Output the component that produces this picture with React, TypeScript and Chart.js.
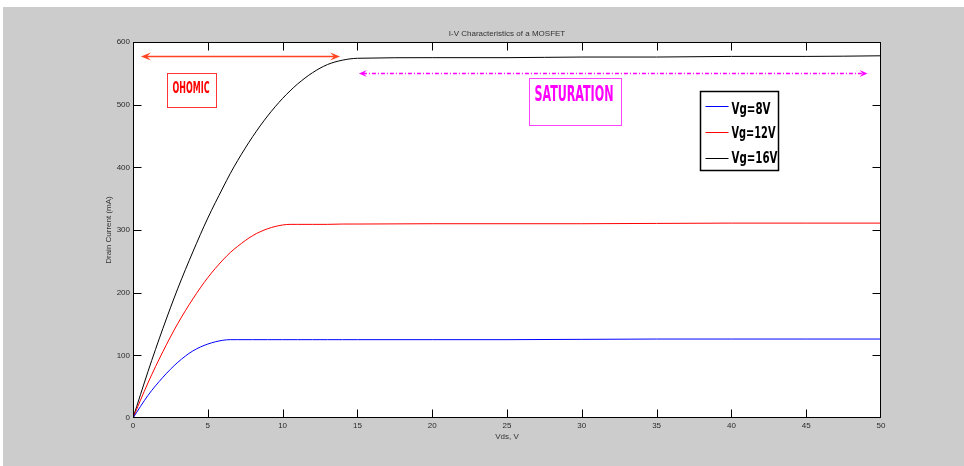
import React, { useEffect, useRef } from "react";
import { Chart, registerables } from "chart.js";

Chart.register(...registerables);

// ---- data ----
const vds = [0, 1, 2, 3, 4, 5, 6, 6.5, 7, 8, 9, 10, 10.5, 11, 12, 13, 14, 15, 20, 25, 30, 35, 40, 45, 50];
const idVg8 = [0, 36, 65, 89, 107, 118, 124, 125, 125, 125, 125, 125, 125, 125, 125, 125, 125, 125, 125, 125, 125.5, 126, 126, 126, 126];
const idVg12 = [0, 56, 106, 151, 190, 224, 252, 264, 274, 291, 302, 308, 309, 309, 309, 309, 309.5, 309.5, 310, 310, 310, 310.5, 311, 311, 311];
const idVg16 = [0, 74, 143, 207, 265, 319, 367, 390, 411, 449, 482, 510, 522, 533, 551, 564, 571, 574, 575, 575, 576, 576, 577, 577, 578];

const xTicks = [0, 5, 10, 15, 20, 25, 30, 35, 40, 45, 50];
const yTicks = [0, 100, 200, 300, 400, 500, 600];

const seriesLabels = ["Vg=8V", "Vg=12V", "Vg=16V"];
const seriesColors = ["#0000ff", "#ff0000", "#000000"];

const titleText = "I-V Characteristics of a MOSFET";
const xTitle = "Vds, V";
const yTitle = "Drain Current (mA)";
const ohmicText = "OHOMIC";
const satText = "SATURATION";

const smallFont = '"Liberation Sans", Arial, Helvetica, sans-serif';

function drawCondensed(
  ctx: CanvasRenderingContext2D,
  text: string,
  left: number,
  baseline: number,
  cap: number,
  width: number,
  color: string
) {
  const size = cap / 0.729;
  ctx.save();
  ctx.font = `bold ${size}px "DejaVu Sans Condensed", "DejaVu Sans", sans-serif`;
  const m = ctx.measureText(text).width;
  ctx.translate(left, baseline);
  ctx.scale(width / m, 1);
  ctx.fillStyle = color;
  ctx.textAlign = "left";
  ctx.textBaseline = "alphabetic";
  ctx.fillText(text, 0, 0);
  ctx.restore();
}

function arrowHead(ctx: CanvasRenderingContext2D, tipX: number, y: number, dir: number, len: number, half: number) {
  ctx.beginPath();
  ctx.moveTo(tipX, y);
  ctx.lineTo(tipX - dir * len, y - half);
  ctx.lineTo(tipX - dir * len * 0.6, y);
  ctx.lineTo(tipX - dir * len, y + half);
  ctx.closePath();
  ctx.fill();
}

const matlabPlugin = {
  id: "matlabLook",
  beforeDraw(chart: any) {
    const { ctx, chartArea: a, width, height } = chart;
    ctx.save();
    ctx.fillStyle = "#ffffff";
    ctx.fillRect(0, 0, width, height);
    ctx.fillStyle = "#cccccc";
    ctx.fillRect(3, 7, width - 3, height - 7);
    ctx.fillStyle = "#ffffff";
    ctx.fillRect(a.left, a.top, a.right - a.left, a.bottom - a.top);
    ctx.restore();
  },
  afterDatasetsDraw(chart: any) {
    const { ctx, chartArea: a } = chart;
    const sx = chart.scales.x;
    const sy = chart.scales.y;
    const L = Math.round(a.left) + 0.5;
    const R = Math.round(a.right) - 0.5;
    const T = Math.round(a.top) + 0.5;
    const B = Math.round(a.bottom) - 0.5;
    ctx.save();

    // frame and inward ticks
    ctx.strokeStyle = "#000000";
    ctx.lineWidth = 1;
    ctx.strokeRect(L, T, R - L, B - T);
    const tl = 8;
    ctx.beginPath();
    xTicks.forEach((v) => {
      const px = Math.max(L, Math.min(R, Math.round(sx.getPixelForValue(v)) + 0.5));
      ctx.moveTo(px, B);
      ctx.lineTo(px, B - tl);
      ctx.moveTo(px, T);
      ctx.lineTo(px, T + tl);
    });
    yTicks.forEach((v) => {
      const py = Math.max(T, Math.min(B, Math.round(sy.getPixelForValue(v)) + 0.5));
      ctx.moveTo(L, py);
      ctx.lineTo(L + tl, py);
      ctx.moveTo(R, py);
      ctx.lineTo(R - tl, py);
    });
    ctx.stroke();

    // titles
    ctx.fillStyle = "#333333";
    ctx.font = `8px ${smallFont}`;
    ctx.textAlign = "center";
    ctx.textBaseline = "middle";
    ctx.fillText(titleText, (a.left + a.right) / 2, a.top - 8.5);
    ctx.fillText(xTitle, (a.left + a.right) / 2, a.bottom + 18.5);
    ctx.save();
    ctx.translate(a.left - 24, (a.top + a.bottom) / 2);
    ctx.rotate(-Math.PI / 2);
    ctx.fillText(yTitle, 0, 0);
    ctx.restore();

    const X = (v: number) => sx.getPixelForValue(v);
    const Y = (v: number) => sy.getPixelForValue(v);

    // ohmic double arrow
    {
      const y = Math.round(Y(577)) + 0.5;
      const x1 = X(0.53);
      const x2 = X(13.84);
      ctx.strokeStyle = "#ff4422";
      ctx.fillStyle = "#ff4422";
      ctx.lineWidth = 1.6;
      ctx.beginPath();
      ctx.moveTo(x1 + 4, y);
      ctx.lineTo(x2 - 4, y);
      ctx.stroke();
      arrowHead(ctx, x1, y, -1, 10, 4);
      arrowHead(ctx, x2, y, 1, 10, 4);
    }
    // ohmic box
    {
      const bl = Math.round(X(2.29)) + 0.5;
      const br = Math.round(X(5.53)) + 0.5;
      const bt = Math.round(Y(550)) + 0.5;
      const bb = Math.round(Y(495.8)) + 0.5;
      ctx.strokeStyle = "#ff3333";
      ctx.lineWidth = 1;
      ctx.strokeRect(bl, bt, br - bl, bb - bt);
      drawCondensed(ctx, ohmicText, bl + 5, bt + 19, 11.6, 37, "#ff0000");
    }
    // saturation dash-dot double arrow
    {
      const y = Math.round(Y(550)) + 0.5;
      const x1 = X(15.1);
      const x2 = X(49.1);
      ctx.strokeStyle = "#ff00ff";
      ctx.fillStyle = "#ff00ff";
      ctx.lineWidth = 1.3;
      ctx.setLineDash([4, 2, 1, 2]);
      ctx.beginPath();
      ctx.moveTo(x1 + 4, y);
      ctx.lineTo(x2 - 4, y);
      ctx.stroke();
      ctx.setLineDash([]);
      arrowHead(ctx, x1, y, -1, 8, 3.5);
      arrowHead(ctx, x2, y, 1, 8, 3.5);
    }
    // saturation box
    {
      const bl = Math.round(X(26.47)) + 0.5;
      const br = Math.round(X(32.6)) + 0.5;
      const bt = Math.round(Y(543)) + 0.5;
      const bb = Math.round(Y(467.6)) + 0.5;
      ctx.strokeStyle = "#ff44ff";
      ctx.lineWidth = 1;
      ctx.strokeRect(bl, bt, br - bl, bb - bt);
      drawCondensed(ctx, satText, bl + 5, bt + 22.3, 15, 79, "#ff00ff");
    }
    // legend
    {
      const bl = Math.round(X(37.9)) + 0.5;
      const br = Math.round(X(43.1)) + 0.5;
      const bt = Math.round(Y(521.8)) + 0.5;
      const bb = Math.round(Y(395.7)) + 0.5;
      ctx.fillStyle = "#ffffff";
      ctx.fillRect(bl, bt, br - bl, bb - bt);
      ctx.strokeStyle = "#000000";
      ctx.lineWidth = 1.5;
      ctx.strokeRect(bl, bt, br - bl, bb - bt);
      const lineYs = [14, 40, 66];
      const baseYs = [22.5, 46.5, 71.5];
      const widths = [39, 44, 46];
      seriesLabels.forEach((lab, i) => {
        ctx.strokeStyle = seriesColors[i];
        ctx.lineWidth = 1;
        ctx.beginPath();
        const ly = Math.round(bt + lineYs[i]) + 0.5;
        ctx.moveTo(bl + 5, ly);
        ctx.lineTo(bl + 28, ly);
        ctx.stroke();
        drawCondensed(ctx, lab, bl + 31, bt + baseYs[i], 11, widths[i], "#000000");
      });
    }
    ctx.restore();
  },
};

export default function App() {
  const ref = useRef<HTMLCanvasElement>(null);
  useEffect(() => {
    const series = [idVg8, idVg12, idVg16];
    const chart = new Chart(ref.current as HTMLCanvasElement, {
      type: "line",
      data: {
        datasets: series.map((vals, i) => ({
          label: seriesLabels[i],
          data: vds.map((x, j) => ({ x, y: vals[j] })),
          borderColor: seriesColors[i],
          backgroundColor: seriesColors[i],
          borderWidth: 1,
          pointRadius: 0,
          fill: false,
          cubicInterpolationMode: "monotone" as const,
        })),
      },
      options: {
        animation: false,
        responsive: false,
        devicePixelRatio: 1,
        layout: { padding: { left: 0, top: 42, right: 83, bottom: 0 } },
        plugins: {
          legend: { display: false },
          title: { display: false },
          tooltip: { enabled: false },
        },
        scales: {
          x: {
            type: "linear",
            min: 0,
            max: 50,
            afterBuildTicks: (s: any) => {
              s.ticks = xTicks.map((v) => ({ value: v }));
            },
            afterFit: (s: any) => {
              s.height = 48;
            },
            grid: { display: false, drawTicks: false },
            border: { display: false },
            ticks: {
              padding: 3,
              color: "#2a2a2a",
              maxRotation: 0,
              autoSkip: false,
              font: { family: smallFont, size: 8 },
            },
          },
          y: {
            type: "linear",
            min: 0,
            max: 600,
            afterBuildTicks: (s: any) => {
              s.ticks = yTicks.map((v) => ({ value: v }));
            },
            afterFit: (s: any) => {
              s.width = 133;
            },
            grid: { display: false, drawTicks: false },
            border: { display: false },
            ticks: {
              padding: 3,
              color: "#2a2a2a",
              autoSkip: false,
              font: { family: smallFont, size: 8 },
            },
          },
        },
      },
      plugins: [matlabPlugin],
    });
    return () => chart.destroy();
  }, []);
  return (
    <div style={{ position: "absolute", left: 0, top: 0, width: 964, height: 466 }}>
      <canvas ref={ref} width={964} height={466} style={{ display: "block" }} />
    </div>
  );
}
